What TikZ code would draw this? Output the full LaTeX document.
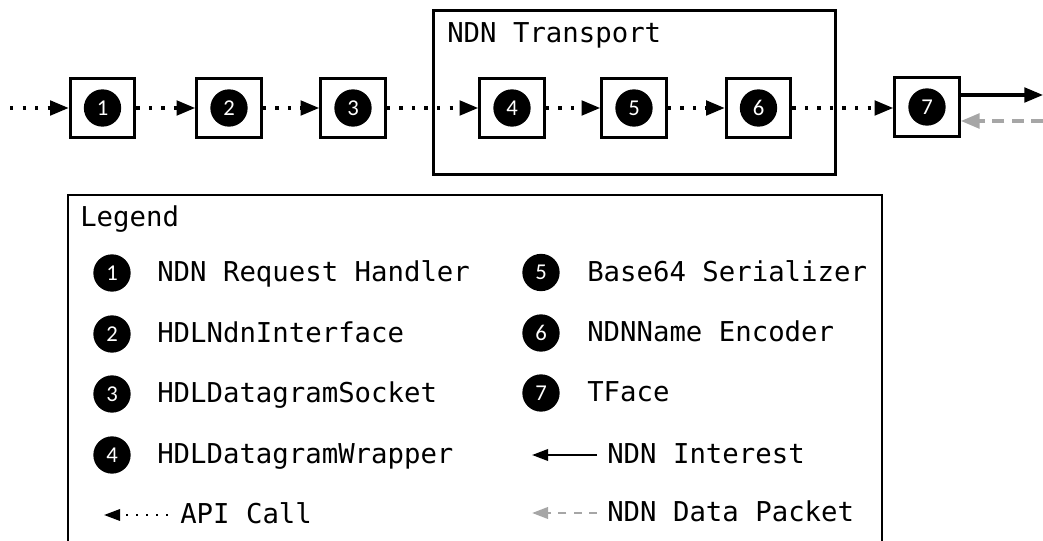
\documentclass[tikz,border=0pt]{standalone}
\usepackage{fontspec}
\setmonofont{DejaVu Sans Mono}
\newfontfamily\numfont{Carlito}
\usetikzlibrary{arrows.meta}
\definecolor{pktgray}{HTML}{A6A6A6}
\begin{document}
\begin{tikzpicture}[x={(0.75pt,0)}, y={(0,-0.75pt)},
  comp/.style={draw, line width=2.25pt, minimum width=48.5pt, minimum height=44.5pt, inner sep=0pt},
  num/.style={circle, fill=black, text=white, minimum size=28pt, inner sep=0pt, font=\numfont\fontsize{17}{17}\selectfont},
  lbl/.style={anchor=base west, inner sep=0pt, font=\ttfamily\fontsize{20.5}{24}\selectfont},
  api/.style={line width=2.4pt, dash pattern=on 2.4pt off 7pt, -{Triangle[length=14pt,width=11pt]}},
  interest/.style={line width=2.3pt, -{Triangle[length=14pt,width=11pt]}},
  datapkt/.style={draw=pktgray, line width=2.5pt, dash pattern=on 9pt off 5.5pt, -{Triangle[length=14pt,width=11pt]}},
  lapi/.style={line width=1.7pt, dash pattern=on 1.7pt off 5.8pt, -{Triangle[length=12pt,width=8.5pt]}},
  linterest/.style={line width=1.8pt, -{Triangle[length=12pt,width=8.5pt]}},
  ldata/.style={draw=pktgray, line width=2pt, dash pattern=on 6pt off 5.5pt, -{Triangle[length=12pt,width=8.5pt]}}
]
\useasboundingbox (0,0) rectangle (1043,541);
\clip (0,0) rectangle (1043,541);

% NDN Transport group
\node[draw, line width=2.25pt, minimum width=301.5pt, minimum height=123pt, inner sep=0pt] (tr) at (634.5,92.5) {};
\node[lbl] (trl) at (447,43) {NDN Transport};

% components
\node[comp] (b1) at (102.5,108) {};
\node[comp] (b2) at (229,108) {};
\node[comp] (b3) at (353,108) {};
\node[comp] (b4) at (512,108) {};
\node[comp] (b5) at (634,108) {};
\node[comp] (b6) at (758.5,108) {};
\node[comp] (b7) at (927,107) {};
\node[num] (n1) at (b1) {1};
\node[num] (n2) at (b2) {2};
\node[num] (n3) at (b3) {3};
\node[num] (n4) at (b4) {4};
\node[num] (n5) at (b5) {5};
\node[num] (n6) at (b6) {6};
\node[num] (n7) at (b7) {7};

% connectors
\coordinate (in) at (10,108);
\coordinate (o1) at (1043,95);
\coordinate (o2) at (1043,121);
\draw[api] (in) -- (b1);
\draw[api] (b1) -- (b2);
\draw[api] (b2) -- (b3);
\draw[api] (b3) -- (b4);
\draw[api] (b4) -- (b5);
\draw[api] (b5) -- (b6);
\draw[api] (b6) -- (b6 -| b7.west);
\draw[interest] (o1 -| b7.east) -- (o1);
\draw[datapkt] (o2) -- (o2 -| b7.east);

% legend
\draw[line width=2.1pt] (68,560) |- (882,195) -- (882,560);
\node[lbl] (lg) at (80,227) {Legend};

\node[num] (l1) at (112,273) {1};
\node[num] (l2) at (112,334) {2};
\node[num] (l3) at (112,394) {3};
\node[num] (l4) at (112,455) {4};
\node[lbl] (t1) at (157,282) {NDN Request Handler};
\node[lbl] (t2) at (157,343) {HDLNdnInterface};
\node[lbl] (t3) at (157,403) {HDLDatagramSocket};
\node[lbl] (t4) at (157,464) {HDLDatagramWrapper};

\node[num] (l5) at (541,272.5) {5};
\node[num] (l6) at (541,333) {6};
\node[num] (l7) at (541,393) {7};
\node[lbl] (t5) at (587,282) {Base64 Serializer};
\node[lbl] (t6) at (587,342) {NDNName Encoder};
\node[lbl] (t7) at (587,402) {TFace};

\coordinate (a1) at (168,515);
\coordinate (a2) at (104,515);
\draw[lapi] (a1) -- (a2);
\node[lbl] (ta) at (180,524) {API Call};

\coordinate (i1) at (597,455);
\coordinate (i2) at (532,455);
\draw[linterest] (i1) -- (i2);
\node[lbl] (ti) at (607,464) {NDN Interest};

\coordinate (d1) at (597,513);
\coordinate (d2) at (532,513);
\draw[ldata] (d1) -- (d2);
\node[lbl] (td) at (607,522) {NDN Data Packet};
\end{tikzpicture}
\end{document}
